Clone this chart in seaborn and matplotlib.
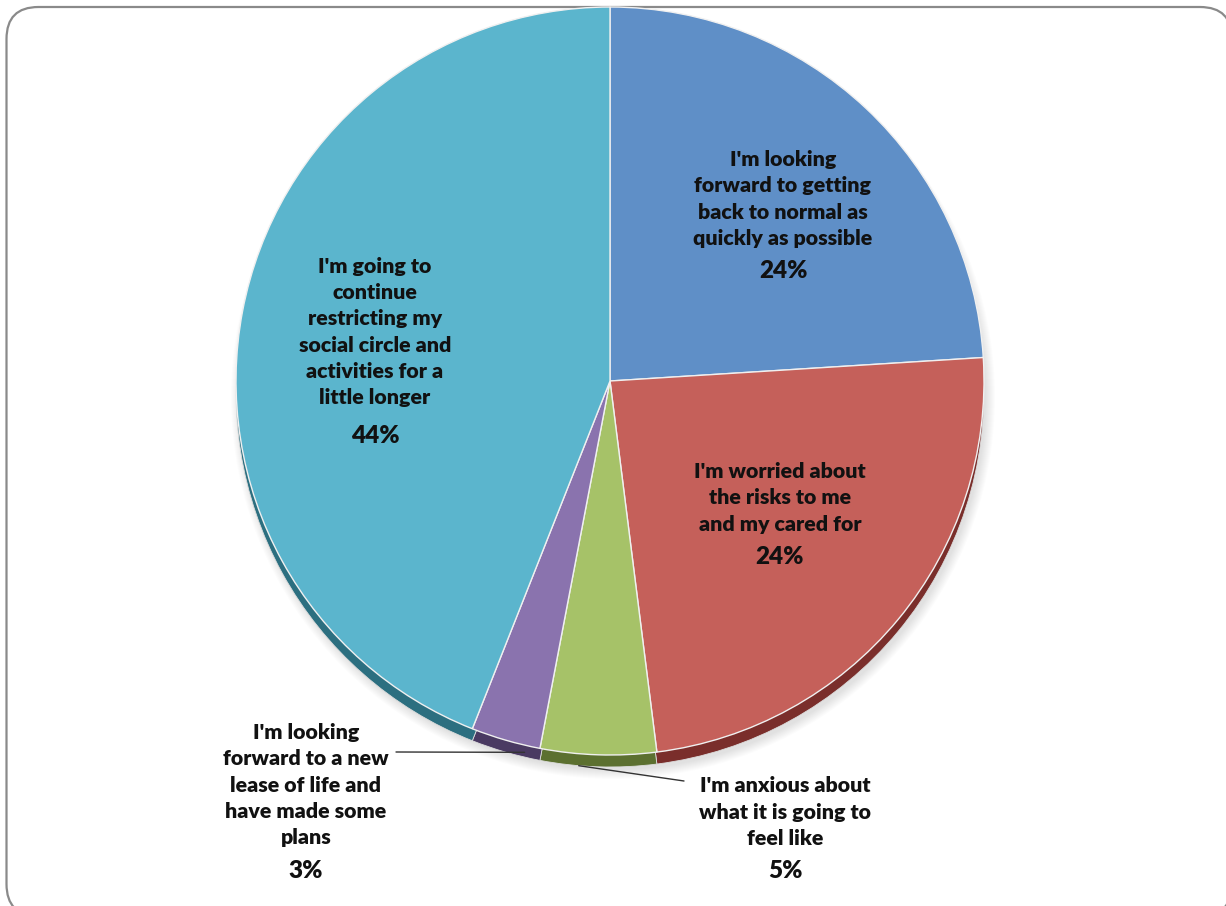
import numpy as np
import matplotlib
matplotlib.use("Agg")
import matplotlib.pyplot as plt
from matplotlib.patches import FancyBboxPatch, Circle
import seaborn as sns

# Survey answers, clockwise from 12 o'clock
answers = [
    "I'm looking\nforward to getting\nback to normal as\nquickly as possible",
    "I'm worried about\nthe risks to me\nand my cared for",
    "I'm anxious about\nwhat it is going to\nfeel like",
    "I'm looking\nforward to a new\nlease of life and\nhave made some\nplans",
    "I'm going to\ncontinue\nrestricting my\nsocial circle and\nactivities for a\nlittle longer",
]
shares = [24, 24, 5, 3, 44]
face_colors = ["#5F8FC7", "#C5605A", "#A6C268", "#8A73AE", "#5BB5CD"]
side_colors = ["#345D8C", "#7A2E2B", "#5C7030", "#4A3A62", "#2C6F80"]

sns.set_style("white")
plt.rcParams["font.family"] = ["Lato", "DejaVu Sans"]

W, H = 1226, 906
fig = plt.figure(figsize=(W / 100, H / 100), dpi=100)

# background axes holding the rounded slide frame
bg = fig.add_axes([0, 0, 1, 1])
bg.set_xlim(0, W)
bg.set_ylim(0, H)
bg.axis("off")
frame = FancyBboxPatch((6.5, -10), 1225.5, H + 3,
                       boxstyle="round,pad=0,rounding_size=32",
                       fc="white", ec="#8a8a8a", lw=1.6)
bg.add_patch(frame)

ax = fig.add_axes([0, 0, 1, 1])
ax.patch.set_alpha(0)

cx, cy, r, depth = 610, H - 381, 374, 12

# soft drop shadow
for k in range(10):
    ax.add_patch(Circle((cx + 3, cy - depth - 4), r + 8 - k,
                        fc="black", ec="none", alpha=0.012, zorder=1))

# pie side (darker, shifted down)
ax.pie(shares, colors=side_colors, startangle=90, counterclock=False,
       center=(cx, cy - depth), radius=r, frame=True,
       wedgeprops=dict(linewidth=0.6, edgecolor="#dddddd", zorder=2))
# pie top face
wedges, _ = ax.pie(shares, colors=face_colors, startangle=90, counterclock=False,
                   center=(cx, cy), radius=r, frame=True,
                   wedgeprops=dict(linewidth=1.0, edgecolor="#f0f0f0", zorder=3))
ax.set_xlim(0, W)
ax.set_ylim(0, H)
ax.set_aspect("auto")
ax.axis("off")

for w in wedges:
    w.set_zorder(3)

def py(y):
    return H - y

txt = dict(ha="center", va="center", fontweight=800, color="#111111",
           fontsize=15.4, linespacing=1.46, zorder=5)
pct = dict(ha="center", va="center", fontweight=800, color="#111111",
           fontsize=17.5, zorder=5)

# label name block centre and percent centre (pixel coordinates)
name_pos = [(783, 199), (780, 498), (785, 812), (306, 785), (375, 332)]
pct_pos = [(783, 271), (780, 557), (785, 871), (306, 871), (375, 436)]
for a, s, (nx, ny), (px_, py_) in zip(answers, shares, name_pos, pct_pos):
    ax.text(nx, py(ny), a, **txt)
    ax.text(px_, py(py_), f"{s}%", **pct)

# leader lines for the two small slices
bounds = np.cumsum([0] + shares) / 100.0
mids = 90 - 360 * (bounds[:-1] + bounds[1:]) / 2
a_purple = np.deg2rad(mids[3] + 3)
ax.plot([396, cx + r * np.cos(a_purple)],
        [py(752), cy + r * np.sin(a_purple) - depth * 0.6],
        color="#333333", lw=1.0, zorder=6)
a_green = np.deg2rad(mids[2] - 3)
ax.plot([cx + r * np.cos(a_green), 684],
        [cy + r * np.sin(a_green) - depth, py(781)],
        color="#333333", lw=1.0, zorder=6)

fig.savefig("out.png", dpi=100)
